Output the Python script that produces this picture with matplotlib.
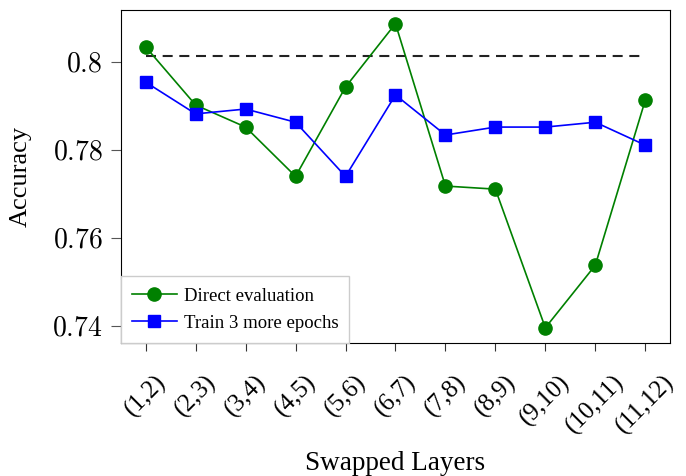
import matplotlib
matplotlib.use('Agg')
import matplotlib.pyplot as plt

plt.rcParams['font.family'] = ['Liberation Serif', 'DejaVu Serif']
plt.rcParams['mathtext.fontset'] = 'cm'

layers = ['(1,2)', '(2,3)', '(3,4)', '(4,5)', '(5,6)', '(6,7)',
          '(7,8)', '(8,9)', '(9,10)', '(10,11)', '(11,12)']
direct_eval = [0.8034, 0.7902, 0.7852, 0.7740, 0.7943, 0.8087,
               0.7718, 0.7711, 0.7396, 0.7538, 0.7913]
train_more = [0.7954, 0.7882, 0.7893, 0.7863, 0.7740, 0.7925,
              0.7834, 0.7852, 0.7852, 0.7863, 0.7811]
baseline = 0.8014
yticks = [0.74, 0.76, 0.78, 0.8]

fig = plt.figure(figsize=(6.86, 4.76), dpi=100)
ax = fig.add_axes([0.176, 0.279, 0.801, 0.700])
x = list(range(len(layers)))

ax.plot(x, [baseline] * len(x), color='#222222', linestyle=(0, (4.8, 3.2)), linewidth=1.5)
ax.plot(x, direct_eval, color='green', marker='o', markersize=9.5, linewidth=1.2,
        label='Direct evaluation')
ax.plot(x, train_more, color='blue', marker='s', markersize=9, linewidth=1.2,
        label='Train 3 more epochs')

ax.set_xlim(-0.5, 10.5)
ax.set_ylim(0.7361, 0.8118)
ax.set_yticks(yticks)
ax.set_yticklabels(['$%g$' % v for v in yticks])
ax.set_xticks(x)
ax.set_xticklabels(layers, rotation=45)
ax.tick_params(axis='y', labelsize=20, direction='out', length=7, pad=6, color='#555555')
ax.tick_params(axis='x', labelsize=18, direction='out', length=6, pad=14, color='#333333')
ax.set_xlabel('Swapped Layers', fontsize=19.5)
ax.xaxis.set_label_coords(0.5, -0.325)
ax.set_ylabel('Accuracy', fontsize=19)
ax.yaxis.set_label_coords(-0.162, 0.5)

leg = ax.legend(loc='lower left', fontsize=13.5, fancybox=False, borderaxespad=0,
                handlelength=2.4, handletextpad=0.35, framealpha=1,
                borderpad=0.6, labelspacing=0.55)
leg.get_frame().set_edgecolor('#cccccc')

fig.savefig('out.png', dpi=100)
